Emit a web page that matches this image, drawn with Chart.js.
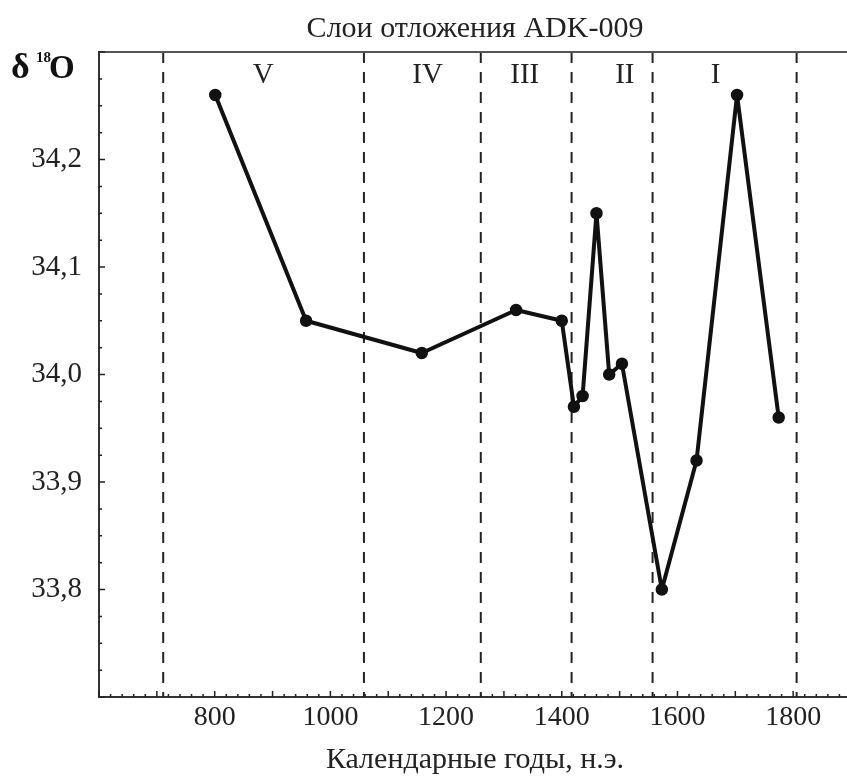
<!DOCTYPE html>
<html>
<head>
<meta charset="utf-8">
<script src="https://cdn.jsdelivr.net/npm/chart.js@4.4.1/dist/chart.umd.min.js"></script>
<style>
  html, body { margin: 0; padding: 0; background: #fff; overflow: hidden; }
  #wrap { width: 858px; height: 779px; }
</style>
</head>
<body>
<div id="wrap"><canvas id="chart" width="858" height="779"></canvas></div>
<script>
// data
const years = [801, 958, 1158, 1321, 1400, 1421, 1436, 1460, 1482, 1504, 1573, 1633, 1703, 1775];
const d18O  = [34.26, 34.05, 34.02, 34.06, 34.05, 33.97, 33.98, 34.15, 34.00, 34.01, 33.80, 33.92, 34.26, 33.96];

// layer boundaries (dashed lines) and layer names
const dividerYears = [711, 1058, 1260, 1417, 1557, 1806];
const layerNames = ['V', 'IV', 'III', 'II', 'I'];
const layerNameYears = [884, 1168, 1336, 1509, 1666];

const chartTitle = 'Слои отложения ADK-009';
const xTitle = 'Календарные годы, н.э.';
const xMin = 600, xMax = 1900;   // the original picture is cut off a bit before 1900
const yMin = 33.7, yMax = 34.3;

const serif = "'Liberation Serif', 'Times New Roman', serif";

function isMult(v, step) {
  const r = v / step;
  return Math.abs(r - Math.round(r)) < 1e-6;
}

const mainSeries = {
  data: years.map((x, i) => ({ x: x, y: d18O[i] })),
  showLine: true,
  borderColor: '#111',
  borderWidth: 4,
  borderJoinStyle: 'round',
  borderCapStyle: 'round',
  pointRadius: 5.5,
  pointBorderWidth: 1.5,
  pointBackgroundColor: '#111',
  pointBorderColor: '#111',
  tension: 0,
  order: 0
};

const dividers = dividerYears.map(yr => ({
  data: [{ x: yr, y: yMax }, { x: yr, y: yMin }],
  showLine: true,
  borderColor: '#222',
  borderWidth: 2,
  borderDash: [11, 9],
  pointRadius: 0,
  order: 1
}));

const decor = {
  id: 'decor',
  afterDraw(chart) {
    const { ctx, chartArea: a, scales: { x, y } } = chart;
    ctx.save();
    // top frame line
    ctx.strokeStyle = '#555';
    ctx.lineWidth = 2;
    ctx.beginPath();
    ctx.moveTo(a.left, a.top);
    ctx.lineTo(a.right, a.top);
    ctx.stroke();

    // ticks pointing inward
    ctx.strokeStyle = '#222';
    ctx.lineWidth = 1.5;
    ctx.beginPath();
    x.ticks.forEach(t => {
      const px = x.getPixelForValue(t.value);
      const len = isMult(t.value, 100) ? 6 : 3;
      ctx.moveTo(px, a.bottom);
      ctx.lineTo(px, a.bottom - len);
    });
    y.ticks.forEach(t => {
      const py = y.getPixelForValue(t.value);
      const len = isMult(t.value, 0.1) ? 6 : 3;
      ctx.moveTo(a.left, py);
      ctx.lineTo(a.left + len, py);
    });
    ctx.stroke();

    ctx.fillStyle = '#222';
    // layer names
    ctx.font = '29px ' + serif;
    ctx.textAlign = 'center';
    ctx.textBaseline = 'alphabetic';
    layerNames.forEach((n, i) => {
      ctx.fillText(n, x.getPixelForValue(layerNameYears[i]), a.top + 31);
    });

    // title over the plot
    ctx.font = '30px ' + serif;
    ctx.fillText(chartTitle, (a.left + a.right) / 2, a.top - 15);

    // axis name δ18O
    ctx.textAlign = 'left';
    ctx.fillStyle = '#111';
    ctx.font = 'bold 36px ' + serif;
    ctx.fillText('δ', 11, 78);
    ctx.font = 'bold 15px ' + serif;
    ctx.fillText('18', 36, 62);
    ctx.font = 'bold 33px ' + serif;
    ctx.fillText('O', 49, 78);
    ctx.restore();
  }
};

new Chart(document.getElementById('chart'), {
  type: 'scatter',
  data: { datasets: [mainSeries].concat(dividers) },
  options: {
    responsive: false,
    animation: false,
    layout: { padding: { top: 52, right: 0, left: 0, bottom: 0 } },
    plugins: {
      legend: { display: false },
      tooltip: { enabled: false },
      title: { display: false }
    },
    scales: {
      x: {
        type: 'linear',
        min: xMin,
        max: xMax,
        grid: { display: true, drawOnChartArea: false, drawTicks: false },
        border: { display: true, color: '#333', width: 2 },
        ticks: {
          stepSize: 20,
          autoSkip: false,
          maxRotation: 0,
          padding: 4,
          color: '#222',
          font: { family: serif, size: 28 },
          callback: v => (isMult(v, 200) && v >= 800 && v <= 1800) ? String(v) : ''
        },
        title: {
          display: true,
          text: xTitle,
          color: '#222',
          font: { family: serif, size: 30 },
          padding: { top: 0, bottom: 1 }
        },
        afterFit: s => { s.height = 82; }
      },
      y: {
        min: yMin,
        max: yMax,
        grid: { display: true, drawOnChartArea: false, drawTicks: false },
        border: { display: true, color: '#333', width: 2 },
        ticks: {
          stepSize: 0.025,
          autoSkip: false,
          padding: 17,
          color: '#222',
          font: { family: serif, size: 29 },
          callback: v => (isMult(v, 0.1) && v > 33.75 && v < 34.25) ? v.toFixed(1).replace('.', ',') : ''
        },
        afterFit: s => { s.width = 99; }
      }
    }
  },
  plugins: [decor]
});
</script>
</body>
</html>
